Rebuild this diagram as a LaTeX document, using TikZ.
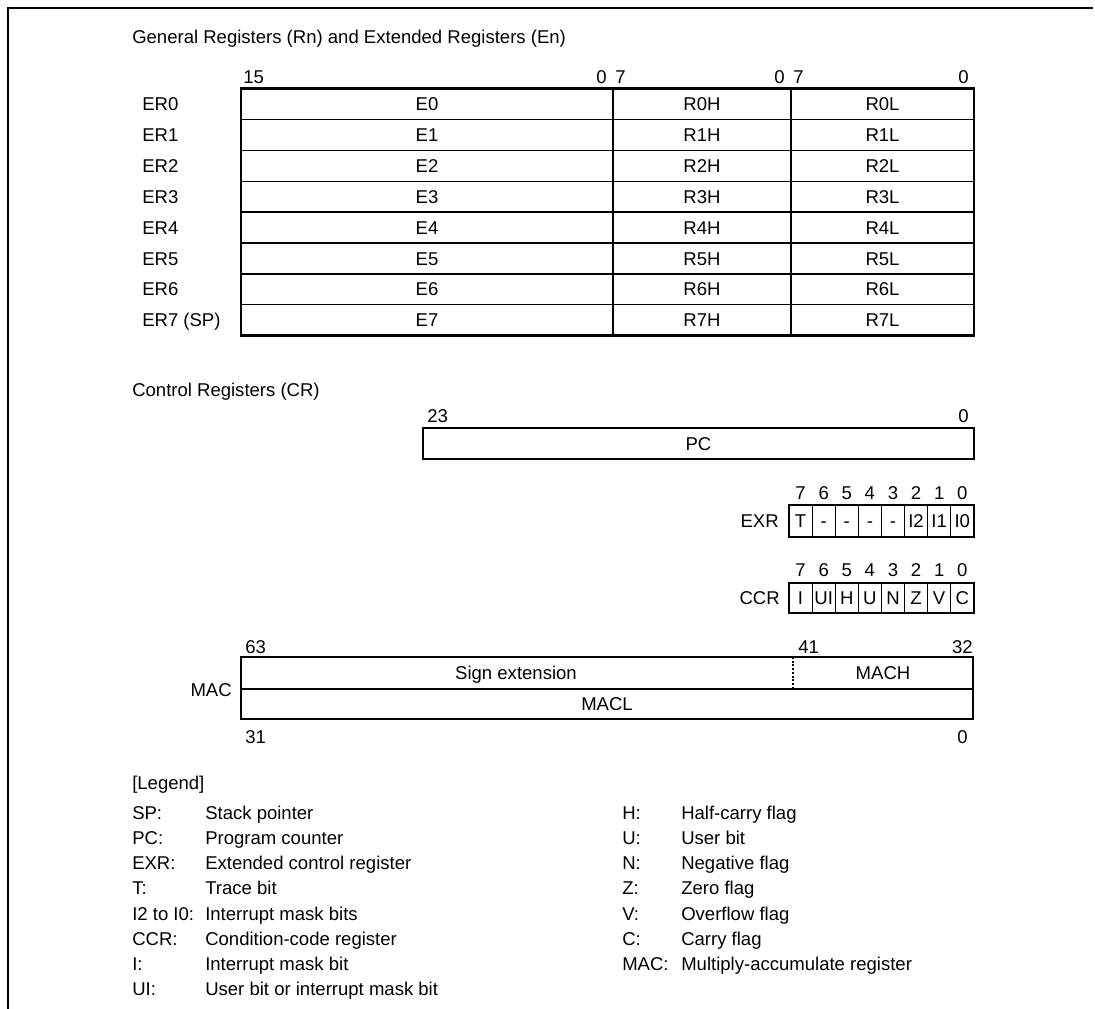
\documentclass[tikz,border=0pt]{standalone}
\usepackage{fontspec}
\setmainfont{Liberation Sans}
\begin{document}
\begin{tikzpicture}[x=0.75pt,y=-0.75pt,
  txt/.style={font=\fontsize{13.9}{16}\selectfont, inner sep=0pt, text height=9.95pt, text depth=0pt},
  border/.style={line width=1.9pt},
  divline/.style={line width=0.9pt},
  dotline/.style={line width=0.8pt, dash pattern=on 1.4pt off 1.4pt}]
\useasboundingbox (0,0) rectangle (1095,1009);
% frame
\draw[border] (8,1009) -- (8,8) -- (1093,8);

% ---------- General registers ----------
\node[txt,anchor=west] (gtitle) at (132,37) {General Registers (Rn) and Extended Registers (En)};
\node[txt,anchor=west] (gb15) at (243,77) {15};
\node[txt,anchor=east] (gb0a) at (607,77) {0};
\node[txt,anchor=west] (gb7a) at (615,77) {7};
\node[txt,anchor=east] (gb0b) at (785,77) {0};
\node[txt,anchor=west] (gb7b) at (793,77) {7};
\node[txt,anchor=east] (gb0c) at (969,77) {0};

\foreach \i/\lab in {0/ER0,1/ER1,2/ER2,3/ER3,4/ER4,5/ER5,6/ER6,7/{ER7 (SP)}} {
  \pgfmathsetmacro\yc{88.5+30.9*(\i+0.5)}
  \node[txt,anchor=west] (er\i) at (142,\yc) {\lab};
  \node[txt] (e\i) at (427,\yc) {E\i};
  \node[txt] (rh\i) at (702,\yc) {R\i H};
  \node[txt] (rl\i) at (882.5,\yc) {R\i L};
}
\foreach \i in {1,...,7} \draw[divline] (241,{88.5+30.9*\i}) -- (974,{88.5+30.9*\i});
\draw[divline] (613,88.5) -- (613,335.7);
\draw[divline] (791,88.5) -- (791,335.7);
\draw[border] (241,88.5) rectangle (974,335.7);

% ---------- Control registers ----------
\node[txt,anchor=west] (ctitle) at (132,390) {Control Registers (CR)};

% PC
\node[txt,anchor=west] (pcb23) at (427,416) {23};
\node[txt,anchor=east] (pcb0) at (969,416) {0};
\draw[border] (423,428) rectangle (974,459);
\node[txt] (pc) at (698.5,443.5) {PC};

% EXR
\node[txt,anchor=east] (exrlab) at (779,521) {EXR};
\foreach \lab [count=\k from 0] in {T,-,-,-,-,I2,I1,I0} {
  \pgfmathtruncatemacro\b{7-\k}
  \node[txt] (exr\k) at ({789+23.1*(\k+0.5)},521) {\lab};
  \node[txt] (exrb\k) at ({789+23.1*(\k+0.5)},493) {\b};
}
\foreach \k in {1,...,7} \draw[divline] ({789+23.1*\k},505) -- ({789+23.1*\k},537);
\draw[border] (789,505) rectangle (973.8,537);

% CCR
\node[txt,anchor=east] (ccrlab) at (780,598) {CCR};
\foreach \lab [count=\k from 0] in {I,UI,H,U,N,Z,V,C} {
  \pgfmathtruncatemacro\b{7-\k}
  \node[txt] (ccr\k) at ({789+23.1*(\k+0.5)},598) {\lab};
  \node[txt] (ccrb\k) at ({789+23.1*(\k+0.5)},570) {\b};
}
\foreach \k in {1,...,7} \draw[divline] ({789+23.1*\k},583) -- ({789+23.1*\k},613);
\draw[border] (789,583) rectangle (973.8,613);

% MAC
\node[txt,anchor=west] (macb63) at (245,647) {63};
\node[txt,anchor=west] (macb41) at (798,647) {41};
\node[txt,anchor=east] (macb32) at (973,647) {32};
\node[txt,anchor=west] (macb31) at (245,737) {31};
\node[txt,anchor=east] (macb0) at (968,737) {0};
\node[txt,anchor=east] (maclab) at (232,690) {MAC};
\draw[dotline] (793,657) -- (793,689);
\draw[border] (241,689) -- (973,689);
\draw[border] (241,657) rectangle (973,719);
\node[txt] (signext) at (516,673) {Sign extension};
\node[txt] (mach) at (883,673) {MACH};
\node[txt] (macl) at (607,704) {MACL};

% ---------- Legend ----------
\node[txt,anchor=west] (legend) at (132,783) {[Legend]};
\foreach \a/\d [count=\k from 0] in {SP:/Stack pointer,PC:/Program counter,EXR:/Extended control register,T:/Trace bit,I2 to I0:/Interrupt mask bits,CCR:/Condition-code register,I:/Interrupt mask bit,UI:/User bit or interrupt mask bit} {
  \node[txt,anchor=west] (la\k) at (132,{813+25.1*\k}) {\a};
  \node[txt,anchor=west] (ld\k) at (205,{813+25.1*\k}) {\d};
}
\foreach \a/\d [count=\k from 0] in {H:/Half-carry flag,U:/User bit,N:/Negative flag,Z:/Zero flag,V:/Overflow flag,C:/Carry flag,MAC:/Multiply-accumulate register} {
  \node[txt,anchor=west] (ra\k) at (622,{813+25.1*\k}) {\a};
  \node[txt,anchor=west] (rd\k) at (681,{813+25.1*\k}) {\d};
}
\end{tikzpicture}
\end{document}
